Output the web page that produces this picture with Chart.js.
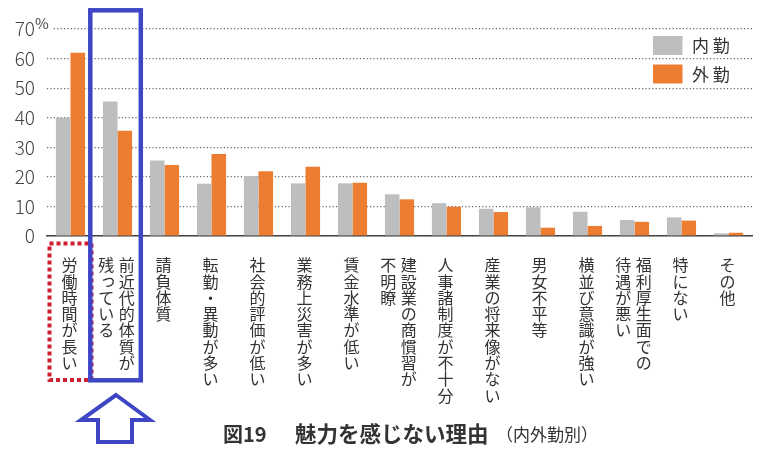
<!DOCTYPE html>
<html>
<head>
<meta charset="utf-8">
<script src="https://cdn.jsdelivr.net/npm/chart.js@4/dist/chart.umd.min.js"></script>
<style>
  body { margin: 0; background: #fff; }
  #chart { display: block; }
</style>
</head>
<body>
<canvas id="chart" width="760" height="456"></canvas>
<script>
// columns of each vertical label, right column first
const categories = [
  ['労働時間が長い'],
  ['前近代的体質が', '残っている'],
  ['請負体質'],
  ['転勤・異動が多い'],
  ['社会的評価が低い'],
  ['業務上災害が多い'],
  ['賃金水準が低い'],
  ['建設業の商慣習が', '不明瞭'],
  ['人事諸制度が不十分'],
  ['産業の将来像がない'],
  ['男女不平等'],
  ['横並び意識が強い'],
  ['福利厚生面での', '待遇が悪い'],
  ['特にない'],
  ['その他']
];
const naikin = [40, 45.5, 25.5, 17.7, 20.3, 17.8, 17.8, 14.1, 11.1, 9.2, 9.7, 8.2, 5.4, 6.3, 0.9];
const gaikin = [62, 35.6, 24, 27.7, 21.9, 23.4, 18, 12.4, 9.9, 8.1, 2.8, 3.4, 4.8, 5.2, 1.1];
const seriesNames = ['内 勤', '外 勤'];
const yTicks = [0, 10, 20, 30, 40, 50, 60, 70];
const titleMain = ['図19', '魅力を感じない理由'];
const titleSub = '（内外勤別）';

const JP = '"Noto Sans CJK JP", "Noto Sans", sans-serif';
const GRAY = '#bdbec0';
const ORANGE = '#ed7d31';
const BLUE = '#3f46c6';
const RED = '#d0202f';

const extras = {
  id: 'extras',
  afterDraw(chart) {
    const ctx = chart.ctx;
    const x = chart.scales.x;
    const y = chart.scales.y;
    const step = x.getPixelForValue(1) - x.getPixelForValue(0);

    // "%" next to the 70 tick
    ctx.save();
    ctx.fillStyle = '#fff';
    ctx.fillRect(35, 16, 17, 16);
    ctx.fillStyle = '#444';
    ctx.font = '15px ' + JP;
    ctx.textAlign = 'left';
    ctx.textBaseline = 'alphabetic';
    ctx.fillText('%', 35, y.getPixelForValue(70));
    ctx.restore();

    // vertical category labels
    ctx.save();
    ctx.fillStyle = '#333';
    ctx.font = '16px ' + JP;
    ctx.textAlign = 'center';
    ctx.textBaseline = 'middle';
    const pitch = 16.3;
    const colGap = 20.5;
    categories.forEach((cols, i) => {
      const cx = x.getPixelForValue(i) - 1;
      cols.forEach((col, c) => {
        const colX = cx + ((cols.length - 1) / 2 - c) * colGap;
        [...col].forEach((ch, k) => {
          let dx = 0, dy = 0;
          if ('っゃゅょ'.includes(ch)) { dx = 2; dy = -2; }
          ctx.fillText(ch, colX + dx, 257 + pitch * (k + 0.5) + dy);
        });
      });
    });
    ctx.restore();

    // legend
    ctx.save();
    ctx.font = '17px ' + JP;
    ctx.textAlign = 'left';
    ctx.textBaseline = 'middle';
    chart.data.datasets.forEach((ds, i) => {
      const top = 36 + i * 28.5;
      ctx.fillStyle = ds.backgroundColor;
      ctx.fillRect(653, top, 29.5, 19);
      ctx.fillStyle = '#333';
      ctx.fillText(seriesNames[i], 692, top + 10);
    });
    ctx.restore();

    // title
    ctx.save();
    ctx.fillStyle = '#333';
    ctx.textBaseline = 'middle';
    ctx.textAlign = 'left';
    ctx.font = 'bold 20px ' + JP;
    ctx.fillText(titleMain[0], 223, 434);
    ctx.font = 'bold 21.5px ' + JP;
    ctx.fillText(titleMain[1], 295, 434);
    ctx.font = '17px ' + JP;
    ctx.fillText(titleSub, 496, 435);
    ctx.restore();

    // red dotted frame round the first label
    const c0 = x.getPixelForValue(0);
    const c1 = x.getPixelForValue(1);
    ctx.save();
    ctx.strokeStyle = RED;
    ctx.lineWidth = 4;
    ctx.setLineDash([4, 3]);
    ctx.strokeRect(c0 - step / 2 + 2.5, 243.5, c1 - c0 - 5, 136.5);
    ctx.restore();

    // blue frame round the second category
    ctx.save();
    ctx.strokeStyle = BLUE;
    ctx.lineWidth = 4.5;
    ctx.strokeRect(c1 - 27.2, 10.3, 50.5, 370);

    // outlined arrow pointing up
    const ax = c1 - 1.5;
    ctx.lineWidth = 4;
    ctx.lineJoin = 'miter';
    ctx.beginPath();
    ctx.moveTo(ax, 395);
    ctx.lineTo(ax + 34, 420);
    ctx.lineTo(ax + 16, 420);
    ctx.lineTo(ax + 16, 442);
    ctx.lineTo(ax - 18, 442);
    ctx.lineTo(ax - 18, 420);
    ctx.lineTo(ax - 35, 420);
    ctx.closePath();
    ctx.stroke();
    ctx.restore();
  }
};

new Chart(document.getElementById('chart'), {
  type: 'bar',
  data: {
    labels: categories.map(c => c.join('')),
    datasets: [
      { label: seriesNames[0], data: naikin, backgroundColor: GRAY },
      { label: seriesNames[1], data: gaikin, backgroundColor: ORANGE }
    ]
  },
  options: {
    responsive: false,
    animation: false,
    layout: { padding: { top: 29, right: 8, bottom: 220, left: 0 } },
    datasets: { bar: { categoryPercentage: 0.62, barPercentage: 1 } },
    plugins: { legend: { display: false }, tooltip: { enabled: false } },
    scales: {
      x: {
        ticks: { display: false },
        grid: { display: false, drawTicks: false },
        border: { display: true, color: '#444', width: 1.5 },
        afterFit(s) { s.height = 0; }
      },
      y: {
        min: 0,
        max: 70,
        afterBuildTicks(s) { s.ticks = yTicks.map(v => ({ value: v })); },
        ticks: { color: '#444', font: { family: JP, size: 19, weight: 300 }, padding: 12 },
        grid: { color: '#666', lineWidth: 1.2, drawTicks: false },
        border: { display: false, dash: [1.2, 2.2] },
        afterFit(s) { s.width = 47; }
      }
    }
  },
  plugins: [extras]
});
</script>
</body>
</html>
